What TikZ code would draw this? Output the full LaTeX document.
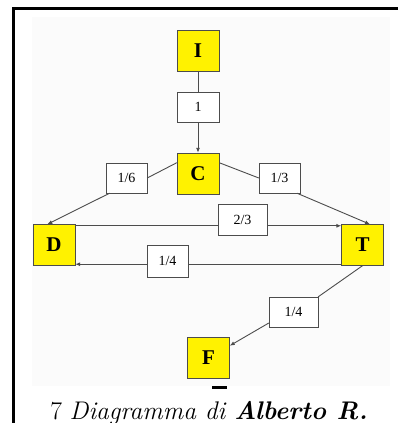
\documentclass[tikz,border=0pt]{standalone}
\usepackage{fontspec}
\usepackage{tikz}
\usetikzlibrary{arrows.meta}
\newfontfamily\diagfont{Liberation Serif}

\begin{document}
\begin{tikzpicture}[x=1pt,y=-1pt,
    statebox/.style={draw=black!70,fill=yellow,minimum width=42pt,minimum height=41pt,inner sep=0pt,font=\diagfont\fontsize{21}{21}\selectfont\bfseries},
    probbox/.style={draw=black!70,fill=white,minimum width=42pt,minimum height=30pt,inner sep=0pt,font=\diagfont\fontsize{14}{14}\selectfont},
    wideprob/.style={probbox,minimum width=49pt,minimum height=31pt},
    link/.style={draw=black!70,line width=0.9pt},
    arrowlink/.style={link,-{Latex[length=5pt,width=4pt]}}]
    \useasboundingbox (0,0) rectangle (397,423);

    % frame and background
    \fill[black!1.5] (32,17) rectangle (390,386);
    \draw[line width=3pt] (13,430) -- (13,8) -- (400,8);

    % state boxes
    \node[statebox] (I) at (198,50.5) {I};
    \node[statebox] (C) at (198,173.5) {C};
    \node[statebox] (D) at (54,245) {D};
    \node[statebox] (T) at (362.5,245) {T};
    \node[statebox] (F) at (208.5,357.5) {F};

    % probability labels
    \node[probbox] (p1) at (198,107) {1};
    \node[probbox,minimum width=41pt] (p16) at (126.5,178) {1/6};
    \node[probbox,minimum width=41pt] (p13) at (279.5,178) {1/3};
    \node[wideprob] (p23) at (242.5,219.5) {2/3};
    \node[probbox,minimum width=41pt,minimum height=32pt] (p14a) at (167.5,261) {1/4};
    \node[wideprob,minimum height=30pt] (p14b) at (293.5,312) {1/4};

    % I -> C
    \draw[link] (I.south) -- (p1.north);
    \draw[arrowlink] (p1.south) -- (C.north);

    % C -> D and C -> T
    \draw[link] (C.153) -- (p16.east);
    \draw[arrowlink] (p16.222) -- (D.108);
    \draw[link] (C.27) -- (p13.west);
    \draw[arrowlink] (p13.-41) -- (T.70);

    % D -> T and T -> D
    \coordinate (dt) at ([yshift=-1.5pt]D.north east);
    \draw[link] (dt) -- (dt -| p23.west);
    \draw[arrowlink] (dt -| p23.east) -- (dt -| T.west);
    \coordinate (td) at ([yshift=1.5pt]T.south west);
    \draw[link] (td) -- (td -| p14a.east);
    \draw[arrowlink] (td -| p14a.west) -- (td -| D.east);

    % T -> F
    \draw[link] (T.south) -- (p14b.north east);
    \draw[arrowlink] (p14b.204) -- (F.29);

    % mark below F
    \fill (212,386) rectangle (227,389);

    % caption
    \node[anchor=base,inner sep=0pt,font=\fontsize{25.5}{30}\selectfont] (caption) at (209,419)
        {7 \textit{Diagramma di} \textbf{\textit{Alberto R.}}};
\end{tikzpicture}
\end{document}
